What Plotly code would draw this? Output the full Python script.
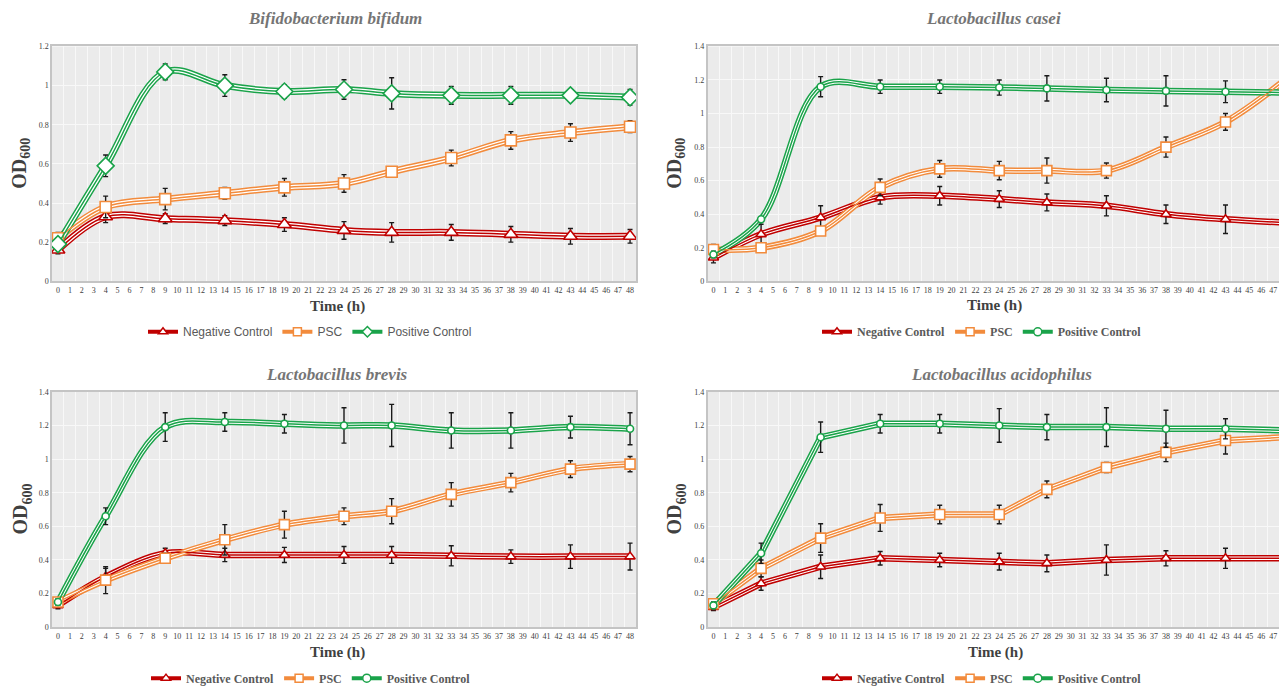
import plotly.graph_objects as go

# ---------------- data ----------------
times = [0, 4, 9, 14, 19, 24, 28, 33, 38, 43, 48]
hour_ticks = list(range(0, 49))

series_names = ["Negative Control", "PSC", "Positive Control"]

panel_titles = ["Bifidobacterium bifidum", "Lactobacillus casei",
                "Lactobacillus brevis", "Lactobacillus acidophilus"]

# Bifidobacterium bifidum
bb_neg = [0.16, 0.33, 0.32, 0.31, 0.29, 0.26, 0.25, 0.25, 0.24, 0.23, 0.23]
bb_neg_err = [0.02, 0.03, 0.025, 0.025, 0.035, 0.045, 0.05, 0.04, 0.04, 0.04, 0.035]
bb_psc = [0.22, 0.38, 0.42, 0.45, 0.48, 0.50, 0.56, 0.63, 0.72, 0.76, 0.79]
bb_psc_err = [0.03, 0.055, 0.055, 0.03, 0.045, 0.045, 0.025, 0.04, 0.045, 0.045, 0.03]
bb_pos = [0.19, 0.59, 1.07, 1.00, 0.97, 0.98, 0.96, 0.95, 0.95, 0.95, 0.94]
bb_pos_err = [0.03, 0.055, 0.04, 0.055, 0.035, 0.05, 0.08, 0.045, 0.045, 0.03, 0.04]

# Lactobacillus casei
lc_neg = [0.14, 0.28, 0.38, 0.50, 0.51, 0.49, 0.47, 0.45, 0.40, 0.37, 0.35]
lc_neg_err = [0.03, 0.06, 0.07, 0.04, 0.055, 0.05, 0.05, 0.06, 0.055, 0.085, 0.055]
lc_psc = [0.19, 0.20, 0.30, 0.56, 0.67, 0.66, 0.66, 0.66, 0.80, 0.95, 1.20]
lc_psc_err = [0.03, 0.01, 0.01, 0.05, 0.05, 0.055, 0.075, 0.045, 0.06, 0.05, 0.09]
lc_pos = [0.16, 0.37, 1.16, 1.16, 1.16, 1.155, 1.15, 1.14, 1.135, 1.13, 1.125]
lc_pos_err = [0.02, 0.01, 0.06, 0.04, 0.04, 0.045, 0.075, 0.07, 0.09, 0.065, 0.06]

# Lactobacillus brevis
lb_neg = [0.13, 0.30, 0.44, 0.43, 0.43, 0.43, 0.43, 0.425, 0.42, 0.42, 0.42]
lb_neg_err = [0.02, 0.05, 0.03, 0.04, 0.045, 0.05, 0.05, 0.06, 0.04, 0.07, 0.08]
lb_psc = [0.15, 0.28, 0.41, 0.52, 0.61, 0.66, 0.69, 0.79, 0.86, 0.94, 0.97]
lb_psc_err = [0.02, 0.08, 0.03, 0.09, 0.08, 0.05, 0.075, 0.07, 0.055, 0.05, 0.045]
lb_pos = [0.15, 0.66, 1.19, 1.22, 1.21, 1.20, 1.20, 1.17, 1.17, 1.19, 1.18]
lb_pos_err = [0.02, 0.05, 0.085, 0.055, 0.055, 0.105, 0.125, 0.105, 0.105, 0.065, 0.095]

# Lactobacillus acidophilus
la_neg = [0.12, 0.26, 0.36, 0.41, 0.40, 0.39, 0.38, 0.40, 0.41, 0.41, 0.41]
la_neg_err = [0.02, 0.04, 0.07, 0.04, 0.04, 0.05, 0.05, 0.09, 0.045, 0.06, 0.085]
la_psc = [0.14, 0.35, 0.53, 0.65, 0.67, 0.67, 0.82, 0.95, 1.04, 1.11, 1.13]
la_psc_err = [0.02, 0.05, 0.085, 0.08, 0.055, 0.055, 0.05, 0.03, 0.055, 0.08, 0.03]
la_pos = [0.13, 0.44, 1.13, 1.21, 1.21, 1.20, 1.19, 1.19, 1.18, 1.18, 1.17]
la_pos_err = [0.02, 0.06, 0.09, 0.055, 0.055, 0.10, 0.075, 0.115, 0.11, 0.06, 0.085]

# ---------------- styling ----------------
VIEW_W, VIEW_H = 1287, 693
OFF = 8  # default page body margin
W, H = VIEW_W - OFF, VIEW_H - OFF


def fx(px):
    return (px - OFF) / W


def fy(py):
    return 1 - (py - OFF) / H


SERIF = "Liberation Serif, Times New Roman, serif"
SANS = "Liberation Sans, Arial, sans-serif"
colors = ["#c00000", "#f28b3c", "#1aa34a"]
PLOT_BG = "#ebebeb"
GRID = "#f8f8f8"
BORDER = "#c4c4c4"

panels = [
    dict(data=[(bb_neg, bb_neg_err), (bb_psc, bb_psc_err), (bb_pos, bb_pos_err)],
         x=(52, 636), y=(43, 281.7), yr=[0, 1.2], shape="spline",
         symbols=["triangle-up", "square", "diamond"], sizes=[12, 11, 13],
         title_x=335, title_y=15, time_x=337, time_y=307, od_x=21,
         leg_x=310, leg_y=333, leg_font=SANS, leg_bold=False, lw=7),
    dict(data=[(lc_neg, lc_neg_err), (lc_psc, lc_psc_err), (lc_pos, lc_pos_err)],
         x=(707.5, 1291), y=(43, 281.7), yr=[0, 1.4], shape="spline",
         symbols=["triangle-up", "square", "circle"], sizes=[9, 10, 7],
         title_x=993, title_y=15, time_x=994, time_y=306, od_x=676,
         leg_x=982, leg_y=333, leg_font=SERIF, leg_bold=True, lw=6.5),
    dict(data=[(lb_neg, lb_neg_err), (lb_psc, lb_psc_err), (lb_pos, lb_pos_err)],
         x=(52, 636), y=(394, 633.3), yr=[0, 1.4], shape="spline",
         symbols=["triangle-up", "square", "circle"], sizes=[9, 10, 7],
         title_x=337, title_y=376, time_x=337, time_y=659, od_x=22,
         leg_x=311, leg_y=685, leg_font=SERIF, leg_bold=True, lw=6.5),
    dict(data=[(la_neg, la_neg_err), (la_psc, la_psc_err), (la_pos, la_pos_err)],
         x=(707.5, 1291), y=(394, 633.3), yr=[0, 1.4], shape="linear",
         symbols=["triangle-up", "square", "circle"], sizes=[9, 10, 7],
         title_x=1001, title_y=376, time_x=995, time_y=659, od_x=676,
         leg_x=982, leg_y=685, leg_font=SERIF, leg_bold=True, lw=6.5),
]

fig = go.Figure()
annotations = []
layout_axes = {}

for i, p in enumerate(panels):
    n = i + 1
    xs = "" if n == 1 else str(n)
    xref, yref = "x" + xs, "y" + xs
    legname = "legend" + xs
    x0, x1 = p["x"]
    px_per_unit = (x1 - x0) / 49.0
    # clip the domain at the page edge (panel is cut off in the reference)
    x1c = min(x1, VIEW_W)
    xmax = 48.5 - (x1 - x1c) / px_per_unit
    xdom = [fx(x0), fx(x1c)]
    ydom = [fy(p["y"][1]), fy(p["y"][0])]

    for s in range(3):
        vals, errs = p["data"][s]
        col = colors[s]
        line_shape = p["shape"]
        common = dict(x=times, y=vals, xaxis=xref, yaxis=yref, mode="lines",
                      hoverinfo="skip", showlegend=False)
        # compound (double) line: outer colour, white gap, thin colour core
        fig.add_trace(go.Scatter(**common, line=dict(color=col, width=p["lw"], shape=line_shape, smoothing=1)))
        fig.add_trace(go.Scatter(**common, line=dict(color="white", width=p["lw"] - 3, shape=line_shape, smoothing=1)))
    for s in range(3):
        vals, errs = p["data"][s]
        col = colors[s]
        fig.add_trace(go.Scatter(
            x=times, y=vals, xaxis=xref, yaxis=yref, mode="lines+markers",
            name=series_names[s], showlegend=False,
            line=dict(color=col, width=1.5, shape=p["shape"], smoothing=1),
            marker=dict(symbol=p["symbols"][s], size=p["sizes"][s], color="white",
                        line=dict(color=col, width=1.6)),
            error_y=dict(type="data", array=errs, visible=True, color="#1a1a1a",
                         thickness=1.4, width=2.5),
        ))
    # legend-only entries
    for s in range(3):
        label = series_names[s]
        if p["leg_bold"]:
            label = "<b>" + label + "</b>"
        fig.add_trace(go.Scatter(
            x=[None], y=[None], xaxis=xref, yaxis=yref, mode="lines+markers",
            name=label, legend=legname, showlegend=True,
            line=dict(color=colors[s], width=4),
            marker=dict(symbol=p["symbols"][s], size=8, color="white",
                        line=dict(color=colors[s], width=1.5)),
        ))

    right_cut = x1 > VIEW_W
    layout_axes["xaxis" + xs] = dict(
        domain=xdom, anchor=yref, range=[-0.5, xmax],
        tickmode="array", tickvals=hour_ticks, ticktext=[str(h) for h in hour_ticks],
        tickfont=dict(family=SERIF, size=8, color="#404040"),
        showgrid=False, zeroline=False, showline=True, mirror=True,
        linecolor=BORDER, linewidth=1.5, ticks="", ticklen=0,
        minor=dict(showgrid=True, tick0=0.5, dtick=1, gridcolor=GRID, gridwidth=1),
        fixedrange=True,
    )
    layout_axes["yaxis" + xs] = dict(
        domain=ydom, anchor=xref, range=p["yr"], dtick=0.2,
        tickfont=dict(family=SERIF, size=8, color="#404040"),
        showgrid=True, gridcolor=GRID, gridwidth=1.2, zeroline=False,
        showline=True, mirror=not right_cut, linecolor=BORDER, linewidth=1.5,
        ticks="", ticklen=0, fixedrange=True,
    )
    layout_axes[legname] = dict(
        orientation="h", x=fx(p["leg_x"]), y=fy(p["leg_y"]),
        xanchor="center", yanchor="middle", bgcolor="rgba(0,0,0,0)",
        font=dict(family=p["leg_font"], size=12, color="#595959"),
        itemwidth=30, tracegroupgap=0, itemclick=False, itemdoubleclick=False,
    )
    annotations.append(dict(
        text="<b><i>" + panel_titles[i] + "</i></b>", x=fx(p["title_x"]), y=fy(p["title_y"]),
        xref="paper", yref="paper", showarrow=False, xanchor="center", yanchor="middle",
        font=dict(family=SERIF, size=17, color="#757575")))
    annotations.append(dict(
        text="<b>Time (h)</b>", x=fx(p["time_x"]), y=fy(p["time_y"]),
        xref="paper", yref="paper", showarrow=False, xanchor="center", yanchor="middle",
        font=dict(family=SERIF, size=15, color="#404040")))
    annotations.append(dict(
        text="<b>OD<sub>600</sub></b>", x=fx(p["od_x"]), y=(ydom[0] + ydom[1]) / 2,
        xref="paper", yref="paper", showarrow=False, xanchor="center", yanchor="middle",
        textangle=-90, font=dict(family=SERIF, size=20, color="#404040")))

fig.update_layout(
    width=W, height=H, margin=dict(l=0, r=0, t=0, b=0),
    paper_bgcolor="white", plot_bgcolor=PLOT_BG,
    annotations=annotations, hovermode=False,
    **layout_axes,
)

fig.write_html("out.html")
